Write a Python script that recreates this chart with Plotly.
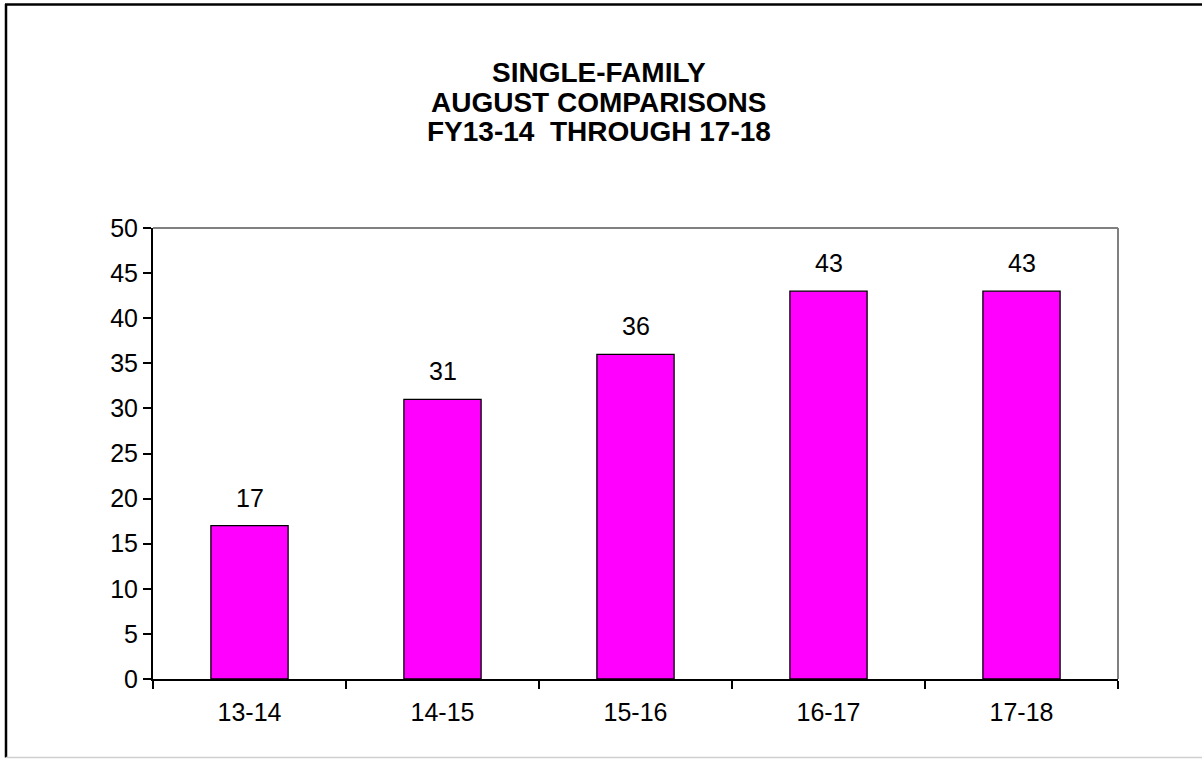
import plotly.graph_objects as go

categories = ["13-14", "14-15", "15-16", "16-17", "17-18"]
values = [17, 31, 36, 43, 43]
title_lines = ["SINGLE-FAMILY", "AUGUST COMPARISONS", "FY13-14  THROUGH 17-18"]

W, H = 1202, 759
L, R, T, B = 153, 1118, 228, 679
FONT = "Arial, Liberation Sans, sans-serif"

pw = R - L
ph = B - T


def px(x):
    return (x - L) / pw


def py(y):
    return (B - y) / ph


fig = go.Figure()
fig.add_trace(go.Bar(
    x=categories, y=values,
    marker=dict(color="#FF00FF", line=dict(color="black", width=1.3)),
    hoverinfo="skip",
))

for c, v in zip(categories, values):
    fig.add_annotation(x=c, y=v, text=str(v), showarrow=False,
                       yanchor="bottom", yshift=12,
                       font=dict(family=FONT, size=25, color="black"))

# title lines
for i, t in enumerate(title_lines):
    fig.add_annotation(xref="paper", yref="paper", x=px(599), y=py(72.5 + i * 29.5),
                       text="<b>%s</b>" % t, showarrow=False,
                       xanchor="center", yanchor="middle", height=27, valign="middle",
                       borderpad=0,
                       font=dict(family=FONT, size=28, color="black"))

# plot-area top and right border (gray)
fig.add_shape(type="line", xref="paper", yref="paper", x0=0, x1=1, y0=1, y1=1,
              line=dict(color="#808080", width=2))
fig.add_shape(type="line", xref="paper", yref="paper", x0=1, x1=1, y0=0, y1=1,
              line=dict(color="#808080", width=2))
# outer chart border
fig.add_shape(type="line", xref="paper", yref="paper", x0=px(5), x1=px(1202), y0=py(4.5), y1=py(4.5),
              line=dict(color="black", width=2.5))
fig.add_shape(type="line", xref="paper", yref="paper", x0=px(6), x1=px(6), y0=py(4), y1=py(757.5),
              line=dict(color="black", width=2.5))
fig.add_shape(type="line", xref="paper", yref="paper", x0=px(6), x1=px(1202), y0=py(757.5), y1=py(757.5),
              line=dict(color="#d0d0d0", width=1.5))

fig.update_layout(
    width=W, height=H,
    margin=dict(l=L, r=W - R, t=T, b=H - B, autoexpand=False),
    paper_bgcolor="white", plot_bgcolor="white",
    showlegend=False,
    bargap=0.6,
    font=dict(family=FONT, size=25, color="black"),
    xaxis=dict(type="category", showline=True, linecolor="black", linewidth=2,
               ticks="outside", tickson="boundaries", ticklen=8, tickwidth=2, tickcolor="black",
               ticklabelstandoff=10,
               showgrid=False, zeroline=False, tickfont=dict(size=25), fixedrange=True),
    yaxis=dict(range=[0, 50], dtick=5, tick0=0, showline=True, linecolor="black", linewidth=2,
               ticks="outside", ticklen=8, tickwidth=2, tickcolor="black",
               showgrid=False, zeroline=False, tickfont=dict(size=25), fixedrange=True),
)

fig.write_html("out.html", config={"displayModeBar": False},
               post_script="document.body.style.margin='0px';")
